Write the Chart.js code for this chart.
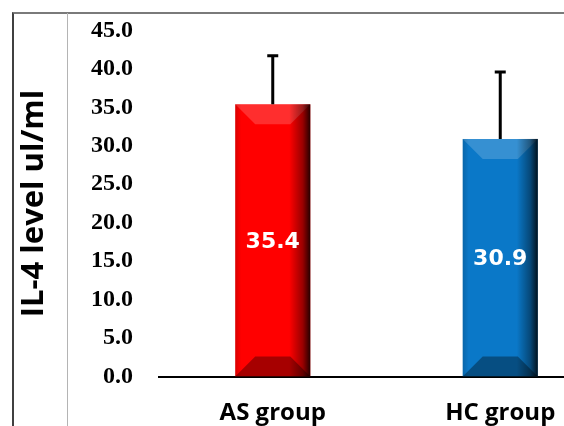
<!DOCTYPE html>
<html>
<head>
<meta charset="utf-8">
<script src="https://cdn.jsdelivr.net/npm/chart.js@4.4.1/dist/chart.umd.min.js"></script>
<style>
  body { margin: 0; width: 564px; height: 426px; overflow: hidden; background: #fff; position: relative; }
  .frame { position: absolute; left: 12px; top: 12px; width: 620px; height: 440px;
           border-left: 2px solid #404040; border-top: 2px solid #7a7a7a; }
  .vline { position: absolute; left: 67px; top: 13px; width: 1px; height: 420px; background: #b4b4b4; }
  #chart { position: absolute; left: 0; top: 0; }
</style>
</head>
<body>
<div class="frame"></div>
<div class="vline"></div>
<canvas id="chart" width="640" height="426"></canvas>
<script>
// データ
const groups = ['AS group', 'HC group'];
const il4Means = [35.4, 30.9];
const il4Sd = [6.3, 8.7];
const barColors = ['#ff0000', '#0a78c8'];
const yTicks = [0, 5, 10, 15, 20, 25, 30, 35, 40, 45];

// 立体っぽいバー + エラーバー + 数値ラベル
const barDecor = {
  id: 'barDecor',
  afterDatasetsDraw(chart) {
    const ctx = chart.ctx;
    const meta = chart.getDatasetMeta(0);
    const yScale = chart.scales.y;
    meta.data.forEach((bar, i) => {
      const p = bar.getProps(['x', 'y', 'base', 'width']);
      const x0 = p.x - p.width / 2, x1 = p.x + p.width / 2;
      const yt = p.y, yb = p.base;
      const b = Math.min(20, (yb - yt) / 2);
      ctx.save();
      // 上の面（明るく）
      ctx.beginPath();
      ctx.moveTo(x0, yt); ctx.lineTo(x1, yt); ctx.lineTo(x1 - b, yt + b); ctx.lineTo(x0 + b, yt + b);
      ctx.closePath();
      ctx.fillStyle = 'rgba(255,255,255,0.18)';
      ctx.fill();
      // 下の面（暗く）
      ctx.beginPath();
      ctx.moveTo(x0, yb); ctx.lineTo(x1, yb); ctx.lineTo(x1 - b, yb - b); ctx.lineTo(x0 + b, yb - b);
      ctx.closePath();
      ctx.fillStyle = 'rgba(0,0,0,0.35)';
      ctx.fill();
      // 左右の陰
      const g = ctx.createLinearGradient(x0, 0, x1, 0);
      g.addColorStop(0, 'rgba(0,0,0,0.15)');
      g.addColorStop(0.08, 'rgba(0,0,0,0)');
      g.addColorStop(0.72, 'rgba(0,0,0,0)');
      g.addColorStop(0.9, 'rgba(0,0,0,0.4)');
      g.addColorStop(1, 'rgba(0,0,0,0.85)');
      ctx.fillStyle = g;
      ctx.fillRect(x0, yt, p.width, yb - yt);

      // エラーバー（上側のみ）
      const yErr = yScale.getPixelForValue(il4Means[i] + il4Sd[i]);
      ctx.strokeStyle = '#000';
      ctx.lineWidth = 3;
      ctx.beginPath();
      ctx.moveTo(p.x, yt); ctx.lineTo(p.x, yErr);
      ctx.moveTo(p.x - 5.5, yErr); ctx.lineTo(p.x + 5.5, yErr);
      ctx.stroke();

      // 数値ラベル
      ctx.fillStyle = '#fff';
      ctx.font = 'bold 22px "DejaVu Sans"';
      ctx.textAlign = 'center';
      ctx.textBaseline = 'middle';
      ctx.fillText(il4Means[i].toFixed(1), p.x, (yt + yb) / 2 + 2);
      ctx.restore();
    });
  }
};

new Chart(document.getElementById('chart'), {
  type: 'bar',
  data: {
    labels: groups,
    datasets: [{
      data: il4Means,
      backgroundColor: barColors,
      borderWidth: 0,
      barPercentage: 0.33,
      categoryPercentage: 1
    }]
  },
  options: {
    responsive: false,
    animation: false,
    layout: { padding: { left: 0, right: 26, top: 30.5, bottom: 0 } },
    plugins: {
      legend: { display: false },
      tooltip: { enabled: false }
    },
    scales: {
      x: {
        grid: { display: false, drawTicks: false },
        border: { display: true, color: '#000', width: 2 },
        ticks: {
          color: '#000',
          padding: 22,
          font: { family: '"Open Sans"', weight: 'bold', size: 24 }
        },
        afterFit(scale) { scale.height = 49.5; }
      },
      y: {
        min: yTicks[0],
        max: yTicks[yTicks.length - 1],
        grid: { display: false, drawTicks: false },
        border: { display: false },
        afterBuildTicks(scale) { scale.ticks = yTicks.map(v => ({ value: v })); },
        ticks: {
          color: '#000',
          padding: 26,
          font: { family: '"Liberation Serif"', weight: 'bold', size: 24 },
          callback: v => v.toFixed(1)
        },
        title: {
          display: true,
          text: 'IL-4 level ul/ml',
          color: '#000',
          padding: { top: 16, bottom: 0 },
          font: { family: '"Open Sans"', weight: 'bold', size: 31 }
        },
        afterFit(scale) {
          scale.width = 159;
          // ラベル分の余白は不要（上のpaddingで確保）
          scale.paddingTop = 0;
          scale.paddingBottom = 0;
        }
      }
    }
  },
  plugins: [barDecor]
});
</script>
</body>
</html>
